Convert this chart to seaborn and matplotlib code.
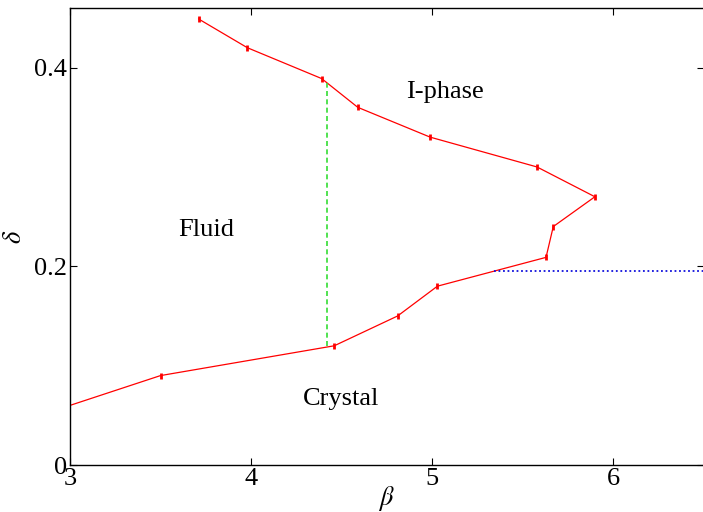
import numpy as np
import pandas as pd
import seaborn as sns
import matplotlib.pyplot as plt

# phase boundary points, traced in order along the curve
beta = [3.0, 3.5, 4.46, 4.81, 5.03, 5.63, 5.67, 5.90, 5.58, 4.99, 4.59, 4.39, 3.98, 3.71]
delta = [0.06, 0.09, 0.12, 0.15, 0.18, 0.209, 0.24, 0.27, 0.30, 0.33, 0.36, 0.389, 0.42, 0.449]
delta_err = [0.0, 0.003, 0.003, 0.003, 0.003, 0.003, 0.003, 0.003, 0.003, 0.003, 0.003, 0.003, 0.003, 0.003]

# dashed boundary between fluid and I-phase
fluid_beta = [4.42, 4.42]
fluid_delta = [0.12, 0.385]

# dotted line on the right
dotted_beta = [5.34, 6.5]
dotted_delta = [0.195, 0.195]

region_labels = ["Fluid", "I-phase", "Crystal"]
region_beta = [3.75, 5.07, 4.5]
region_delta = [0.237, 0.375, 0.066]

sns.set_style("ticks")
plt.rcParams["font.family"] = ["Liberation Serif", "DejaVu Serif"]
plt.rcParams["mathtext.fontset"] = "stix"

df = pd.DataFrame({"beta": beta, "delta": delta, "err": delta_err})

fig = plt.figure(figsize=(7.03, 5.12), dpi=100)
ax = fig.add_axes([70 / 703, 47 / 512, 633.5 / 703, 457 / 512])

sns.lineplot(data=df, x="beta", y="delta", sort=False, estimator=None,
             color="red", linewidth=0.9, ax=ax)
ax.errorbar(df["beta"][1:], df["delta"][1:], yerr=df["err"][1:], fmt="none",
            ecolor="red", elinewidth=2.0, capsize=0)
ax.plot(fluid_beta, fluid_delta, color="#33dd33", linestyle=(0, (3, 2)), linewidth=1.2)
ax.plot(dotted_beta, dotted_delta, color="#1010dd", linestyle=(0, (1, 1.5)), linewidth=1.3)

for lab, bx, dy in zip(region_labels, region_beta, region_delta):
    ax.text(bx, dy, lab, fontsize=19, ha="center", va="center", color="black")

ax.set_xlim(3, 6.5)
ax.set_ylim(0, 0.46)
ax.set_xticks([3, 4, 5, 6])
ax.set_xticklabels(["3", "4", "5", "6"])
ax.set_yticks([0, 0.2, 0.4])
ax.set_yticklabels(["0", "0.2", "0.4"])
ax.tick_params(direction="in", top=True, right=True, labelsize=19, length=5,
               width=0.8, pad=2, color="black", labelcolor="black")
ax.set_xlabel(r"$\beta$", fontsize=19, labelpad=-4, color="black")
ax.set_ylabel(r"$\delta$", fontsize=19, labelpad=6, color="black")
for s in ax.spines.values():
    s.set_linewidth(1.0)
    s.set_color("black")

fig.savefig("out.png", dpi=100)
